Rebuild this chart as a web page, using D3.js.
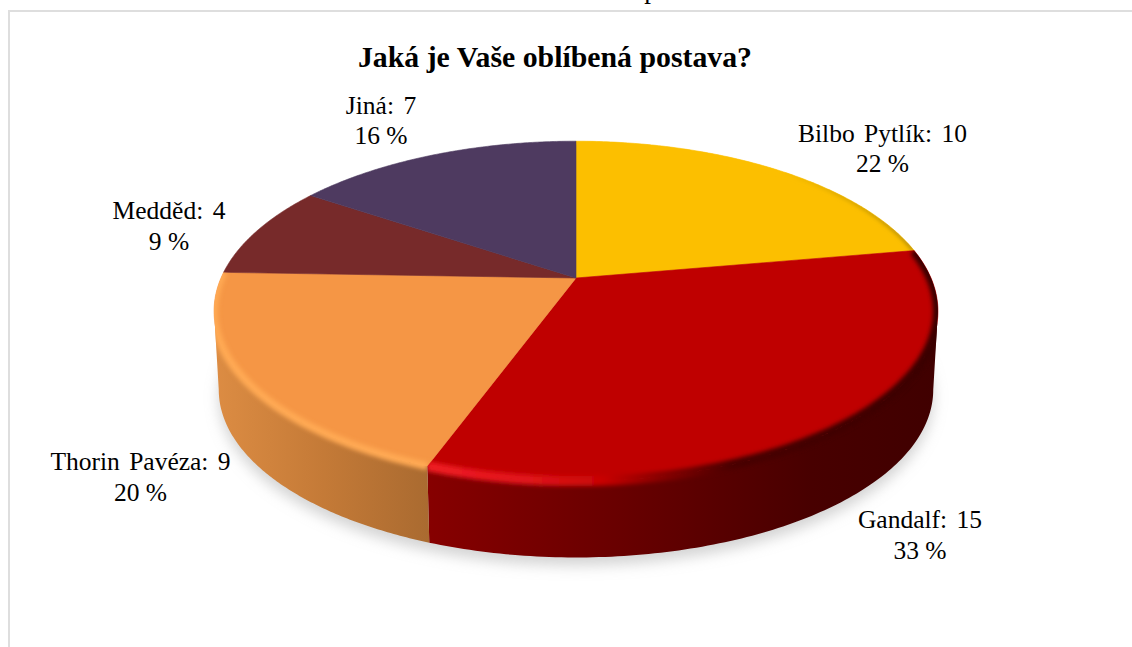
<!DOCTYPE html>
<html lang="cs">
<head>
<meta charset="utf-8">
<script src="https://cdn.jsdelivr.net/npm/d3@7/dist/d3.min.js"></script>
<style>
  html, body { margin: 0; padding: 0; background: #fff; }
  svg { display: block; }
  text { font-family: "Liberation Serif", "Times New Roman", serif; fill: #000; }
</style>
</head>
<body>
<svg id="chart" width="1132" height="647"></svg>
<script>
const title = "Jaká je Vaše oblíbená postava?";
const categories = ["Bilbo Pytlík", "Gandalf", "Thorin Pavéza", "Medděd", "Jiná"];
const counts = [10, 15, 9, 4, 7];
const percents = [22, 33, 20, 9, 16];
const topColors = ["#fcbf00", "#bf0000", "#f59645", "#772a2a", "#4e3a60"];
const labelAnchors = [[882.5, 142, 172], [920, 528, 559], [140.5, 470, 501], [169, 219, 250], [381, 114, 144]];

const width = 1132, height = 647;
const svg = d3.select("#chart");
const defs = svg.append("defs");

// Tilted-disc projection: unit circle to screen with foreshortening towards the back.
const hub = { x: 576, y: 278 }, radiusX = 355, radiusY = 163.5, tilt = 0.195;
const depth = { drop: 79, shrink: 0.987 };
const project = (angle, level = 0) => {
  const u = Math.sin(angle), v = -Math.cos(angle), w = 1 - tilt * v;
  const s = level ? depth.shrink : 1;
  return [hub.x + s * radiusX * u / w, hub.y + level * depth.drop + s * radiusY * v / w];
};
const arcPoints = (a0, a1, level = 0) =>
  d3.range(0, 121).map(i => project(a0 + (a1 - a0) * i / 120, level));
const line = d3.line();

const slices = d3.pie().sort(null).value(d => d)(counts);
const hubPoint = [hub.x, hub.y];
const sectorPath = d => line([hubPoint, ...arcPoints(d.startAngle, d.endAngle)]) + "Z";
const wallPath = (a0, a1) =>
  line([...arcPoints(a0, a1), ...arcPoints(a1, a0, 1)]) + "Z";

// Side wall runs between the widest points of the disc, where the outline is tangent.
const wallStart = Math.acos(-tilt), wallEnd = 2 * Math.PI - wallStart;
const clampWall = d => [Math.max(d.startAngle, wallStart), Math.min(d.endAngle, wallEnd)];

const addBlur = (id, sd) => defs.append("filter").attr("id", id)
  .attr("x", "-20%").attr("y", "-20%").attr("width", "140%").attr("height", "140%")
  .append("feGaussianBlur").attr("stdDeviation", sd);
addBlur("soft-shadow", 7);
addBlur("soft-rim", 2);

const addRamp = (id, x1, x2, stops) => {
  const g = defs.append("linearGradient").attr("id", id)
    .attr("gradientUnits", "userSpaceOnUse")
    .attr("x1", x1).attr("x2", x2).attr("y1", 0).attr("y2", 0);
  stops.forEach(([o, c]) => g.append("stop").attr("offset", o).attr("stop-color", c));
};
addRamp("wall-orange", 216, 432, [[0, "#dc8c43"], [0.5, "#c47a37"], [1, "#a96a30"]]);
addRamp("wall-red", 430, 938, [[0, "#860000"], [0.4, "#660000"], [0.75, "#480000"], [1, "#400000"]]);
addRamp("rim-orange", 214, 432, [[0, "#ffa953"], [1, "#ffa953"]]);
addRamp("rim-red", 430, 938, [[0, "#ef1c24"], [0.2, "#e0141a"], [0.34, "#c80404"], [0.45, "#8a0000"], [0.6, "#480000"], [1, "#3a0000"]]);
addRamp("rim-yellow", 780, 915, [[0, "#fcbf00"], [1, "#9a7c10"]]);

// Frame around the chart area, open at the bottom and on the right.
svg.append("path")
  .attr("d", `M9,${height}V11H${width}`)
  .attr("fill", "none").attr("stroke", "#dedede").attr("stroke-width", 2);

// Text of the surrounding page, cut off by the top edge.
svg.append("text").attr("x", 651).attr("y", -2).attr("text-anchor", "middle")
  .attr("font-size", 27).text("p");

// Soft drop shadow on the ground below the disc.
svg.append("path")
  .attr("d", line(arcPoints(0, 2 * Math.PI, 1)) + "Z")
  .attr("transform", "translate(0,8)")
  .attr("fill", "#a8a8a8").attr("fill-opacity", 0.5)
  .attr("filter", "url(#soft-shadow)");

const pie = svg.append("g");

// Side wall segments.
const wallFills = [null, "url(#wall-red)", "url(#wall-orange)"];
slices.forEach((d, i) => {
  if (!wallFills[i]) return;
  const [a0, a1] = clampWall(d);
  pie.append("path").attr("d", wallPath(a0, a1))
    .attr("fill", wallFills[i]);
});

// Top surface of each slice.
pie.selectAll("path.top").data(slices).join("path")
  .attr("class", "top")
  .attr("d", sectorPath)
  .attr("fill", (d, i) => topColors[i])
  .attr("stroke", (d, i) => topColors[i])
  .attr("stroke-width", 0.6);

// Bevel lighting along the outer rim of the visible slices.
const rimStrokes = { 0: ["url(#rim-yellow)", 3], 1: ["url(#rim-red)", 10], 2: ["url(#rim-orange)", 8] };
slices.forEach((d, i) => {
  const rim = rimStrokes[i];
  if (!rim) return;
  const [w0, w1] = clampWall(d);
  const clipId = `slice-clip-${i}`;
  const clip = defs.append("clipPath").attr("id", clipId);
  clip.append("path").attr("d", sectorPath(d));
  if (w1 > w0) clip.append("path").attr("d", wallPath(w0, w1));
  pie.append("g").attr("clip-path", `url(#${clipId})`)
    .append("path")
    .attr("d", line(arcPoints(d.startAngle, d.endAngle)))
    .attr("fill", "none")
    .attr("stroke", rim[0]).attr("stroke-width", rim[1])
    .attr("filter", "url(#soft-rim)");
});

// Chart title.
svg.append("text").attr("x", 555).attr("y", 67).attr("text-anchor", "middle")
  .attr("font-size", 29.8).attr("font-weight", "bold").text(title);

// Data labels: "name: count" with the percentage underneath.
const labels = svg.selectAll("g.label").data(categories).join("g").attr("class", "label");
labels.append("text")
  .attr("x", (d, i) => labelAnchors[i][0]).attr("y", (d, i) => labelAnchors[i][1])
  .attr("text-anchor", "middle").attr("font-size", 25.5)
  .attr("word-spacing", 3)
  .text((d, i) => `${d}: ${counts[i]}`);
labels.append("text")
  .attr("x", (d, i) => labelAnchors[i][0]).attr("y", (d, i) => labelAnchors[i][2])
  .attr("text-anchor", "middle").attr("font-size", 25.5)
  .text((d, i) => `${percents[i]} %`);
</script>
</body>
</html>
